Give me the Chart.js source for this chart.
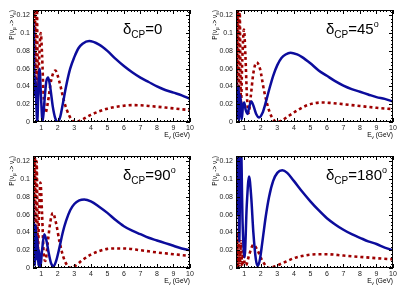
<!DOCTYPE html>
<html>
<head>
<meta charset="utf-8">
<script src="https://cdn.jsdelivr.net/npm/chart.js@4"></script>
<style>
  html, body { margin: 0; padding: 0; background: #fff; }
  #wrap { position: relative; width: 407px; height: 292px; }
  canvas { position: absolute; }
</style>
</head>
<body>
<div id="wrap">
  <canvas id="c1" width="203" height="146" style="left:0;top:0"></canvas>
  <canvas id="c2" width="204" height="146" style="left:203px;top:0"></canvas>
  <canvas id="c3" width="203" height="146" style="left:0;top:146px"></canvas>
  <canvas id="c4" width="204" height="146" style="left:203px;top:146px"></canvas>
</div>
<script>
// axis ticks
const energyTicks = [1, 2, 3, 4, 5, 6, 7, 8, 9, 10];
const probTicks = [0, 0.02, 0.04, 0.06, 0.08, 0.1, 0.12];

// [E (GeV), P]; blue = solid, red = dotted
const blue0 = [[0.5,0.09],[0.53,0.112],[0.57,0.06],[0.61,0.03],[0.65,0.05],[0.7,0.02],[0.76,0],[0.83,0.04],[0.9,0.06],[0.98,0.03],
  [1.08,0],[1.2,0.025],[1.3,0.045],[1.42,0.05],[1.55,0.038],[1.7,0.017],[1.85,0.004],[2.0,0],[2.15,0.006],[2.3,0.02],
  [2.5,0.04],[2.75,0.06],[3.0,0.073],[3.25,0.083],[3.5,0.088],[3.9,0.091],[4.5,0.087],[5,0.08],[5.5,0.071],[6,0.063],
  [6.5,0.056],[7,0.05],[7.5,0.045],[8,0.04],[8.5,0.036],[9,0.033],[9.5,0.03],[10,0.026]];
const red0 = [[0.5,0.15],[0.55,0.05],[0.6,0.16],[0.66,0.04],[0.73,0.14],[0.8,0.03],[0.87,0.07],[0.97,0.1],[1.05,0.075],[1.13,0.035],
  [1.25,0.01],[1.4,0.022],[1.6,0.047],[1.85,0.058],[2.1,0.045],[2.4,0.022],[2.7,0.007],[3.05,0],[3.5,0.003],[4,0.008],
  [4.5,0.012],[5,0.015],[5.5,0.017],[6,0.0183],[6.5,0.019],[7,0.0188],[7.5,0.018],[8,0.0172],[8.5,0.0163],[9,0.0153],[9.5,0.0143],[10,0.0135]];

const blue45 = [[0.5,0.048],[0.52,0.002],[0.56,0.036],[0.6,0.004],[0.65,0.04],[0.7,0.002],[0.77,0.03],[0.85,0.003],[0.93,0.02],[1.0,0.022],
  [1.08,0.014],[1.2,0.009],[1.3,0.017],[1.43,0.023],[1.56,0.018],[1.72,0.009],[1.9,0.005],[2.1,0.01],[2.3,0.022],[2.5,0.036],
  [2.75,0.052],[3.0,0.064],[3.25,0.072],[3.5,0.076],[3.8,0.078],[4.2,0.076],[4.5,0.073],[5,0.066],[5.5,0.058],[6,0.052],
  [6.5,0.046],[7,0.041],[7.5,0.037],[8,0.034],[8.5,0.031],[9,0.028],[9.5,0.026],[10,0.023]];
const red45 = [[0.5,0.14],[0.55,0.02],[0.6,0.15],[0.66,0.03],[0.72,0.13],[0.8,0.02],[0.88,0.07],[0.98,0.104],[1.07,0.075],[1.16,0.03],
  [1.26,0.01],[1.4,0.03],[1.55,0.055],[1.75,0.067],[1.95,0.06],[2.2,0.035],[2.5,0.013],[2.75,0.003],[3.0,0],[3.3,0.002],
  [3.7,0.007],[4.2,0.013],[4.7,0.018],[5.2,0.021],[5.7,0.022],[6.2,0.0215],[7,0.02],[8,0.018],[9,0.016],[10,0.0145]];

const blue90 = [[0.5,0.075],[0.53,0.01],[0.57,0.05],[0.61,0.003],[0.66,0.048],[0.71,0.01],[0.76,0.035],[0.82,0.003],[0.87,0.02],[0.94,0],
  [1.05,0.02],[1.18,0.038],[1.3,0.032],[1.45,0.017],[1.6,0.005],[1.75,0.002],[1.9,0.008],[2.1,0.023],[2.3,0.04],[2.5,0.053],
  [2.75,0.065],[3.0,0.072],[3.3,0.076],[3.6,0.077],[4.0,0.075],[4.5,0.069],[5,0.062],[5.5,0.054],[6,0.047],[6.5,0.042],
  [7,0.038],[7.5,0.034],[8,0.031],[8.5,0.028],[9,0.025],[9.5,0.022],[10,0.02]];
const red90 = [[0.5,0.14],[0.55,0.03],[0.6,0.15],[0.66,0.02],[0.72,0.12],[0.8,0.02],[0.87,0.065],[0.95,0.096],[1.05,0.06],[1.15,0.015],
  [1.25,0.008],[1.4,0.03],[1.55,0.052],[1.7,0.062],[1.9,0.05],[2.1,0.03],[2.4,0.009],[2.8,0],[3.1,0.003],[3.5,0.009],
  [4,0.015],[4.5,0.019],[5,0.0215],[5.5,0.022],[6,0.022],[7,0.02],[8,0.0175],[9,0.0155],[10,0.0135]];

const blue180 = [[0.5,0.2],[0.56,0.06],[0.62,0.2],[0.7,0.03],[0.78,0.16],[0.9,0.05],[1.02,0.012],[1.15,0.07],[1.29,0.103],[1.42,0.08],
  [1.55,0.04],[1.7,0.01],[1.82,0.002],[1.95,0.01],[2.1,0.03],[2.3,0.058],[2.5,0.08],[2.75,0.098],[3.0,0.107],[3.3,0.11],
  [3.6,0.107],[4.0,0.098],[4.5,0.086],[5,0.075],[5.5,0.065],[6,0.056],[6.5,0.049],[7,0.043],[7.5,0.038],[8,0.034],
  [8.5,0.03],[9,0.027],[9.5,0.023],[10,0.02]];
const red180 = [[0.5,0.072],[0.53,0],[0.57,0.04],[0.62,0],[0.67,0.035],[0.73,0.003],[0.8,0.03],[0.88,0.002],[0.95,0.02],[1.03,0.004],
  [1.1,0.003],[1.3,0.015],[1.55,0.026],[1.8,0.02],[2.1,0.008],[2.5,0],[3.0,0.003],[3.5,0.007],[4,0.011],[4.5,0.0135],
  [5,0.015],[5.5,0.0155],[6,0.0155],[7,0.014],[8,0.0125],[9,0.011],[10,0.0098]];

const panels = [
  { id: 'c1', blue: blue0, red: red0, value: '0', deg: false },
  { id: 'c2', blue: blue45, red: red45, value: '45', deg: true },
  { id: 'c3', blue: blue90, red: red90, value: '90', deg: true },
  { id: 'c4', blue: blue180, red: red180, value: '180', deg: true }
];

const FONT = '"Liberation Sans", Arial, sans-serif';

// draw a run of text pieces (sub/superscripts) left to right
function drawParts(ctx, parts, x, y) {
  let cx = x;
  parts.forEach(p => {
    ctx.font = p.size + 'px ' + FONT;
    ctx.fillText(p.t, cx, y + (p.dy || 0));
    cx += ctx.measureText(p.t).width;
  });
  return cx - x;
}
function partsWidth(ctx, parts) {
  let w = 0;
  parts.forEach(p => { ctx.font = p.size + 'px ' + FONT; w += ctx.measureText(p.t).width; });
  return w;
}

const frameTicks = {
  id: 'frameTicks',
  afterDraw(chart) {
    const { ctx, chartArea: a } = chart;
    const x = chart.scales.x, y = chart.scales.y;
    ctx.save();
    ctx.strokeStyle = '#000';
    ctx.lineWidth = 1;
    ctx.strokeRect(a.left + 0.5, a.top + 0.5, a.right - a.left - 1, a.bottom - a.top - 1);
    ctx.beginPath();
    for (let v = 0.6; v < 10.01; v += 0.2) {
      const major = Math.abs(v - Math.round(v)) < 0.01;
      const len = major ? 4 : 2;
      const px = Math.round(x.getPixelForValue(v)) + 0.5;
      ctx.moveTo(px, a.bottom); ctx.lineTo(px, a.bottom - len);
      ctx.moveTo(px, a.top); ctx.lineTo(px, a.top + len);
    }
    for (let v = 0; v < 0.1261; v += 0.004) {
      const major = Math.abs(v / 0.02 - Math.round(v / 0.02)) < 0.01;
      const len = major ? 4 : 2;
      const py = Math.round(y.getPixelForValue(v)) + 0.5;
      ctx.moveTo(a.left, py); ctx.lineTo(a.left + len, py);
      ctx.moveTo(a.right, py); ctx.lineTo(a.right - len, py);
    }
    ctx.stroke();

    ctx.fillStyle = '#000';
    ctx.textBaseline = 'alphabetic';
    ctx.textAlign = 'left';
    // x title
    const xt = [{ t: 'E', size: 6.5 }, { t: 'ν', size: 4.5, dy: 1.5 }, { t: ' (GeV)', size: 6.5 }];
    drawParts(ctx, xt, a.right - partsWidth(ctx, xt), 137);
    // y title (rotated)
    const yt = [{ t: 'P(ν', size: 6.5 }, { t: 'μ', size: 4.5, dy: 1.5 }, { t: ' -> ν', size: 6.5 }, { t: 'e', size: 4.5, dy: 1.5 }, { t: ')', size: 6.5 }];
    ctx.save();
    ctx.translate(14, a.top);
    ctx.rotate(-Math.PI / 2);
    drawParts(ctx, yt, -partsWidth(ctx, yt), 0);
    ctx.restore();
    // delta_CP label
    const p = chart.options.plugins.frameTicks;
    const lab = [{ t: 'δ', size: 15 }, { t: 'CP', size: 10, dy: 4 }, { t: '=' + p.value, size: 15 }];
    if (p.deg) lab.push({ t: 'o', size: 9, dy: -7 });
    drawParts(ctx, lab, a.left + 90, a.top + 24);
    ctx.restore();
  }
};

panels.forEach(pn => {
  const canvas = document.getElementById(pn.id);
  const rightPad = canvas.width - 190;
  new Chart(canvas.getContext('2d'), {
    type: 'line',
    data: {
      datasets: [
        {
          data: pn.blue.map(d => ({ x: d[0], y: d[1] })),
          borderColor: '#0c0c9c',
          borderWidth: 2.5,
          pointRadius: 0,
          cubicInterpolationMode: 'monotone',
          fill: false
        },
        {
          data: pn.red.map(d => ({ x: d[0], y: d[1] })),
          borderColor: '#9e0000',
          borderWidth: 2.6,
          borderDash: [3, 3],
          borderCapStyle: 'butt',
          pointRadius: 0,
          cubicInterpolationMode: 'monotone',
          fill: false
        }
      ]
    },
    options: {
      responsive: false,
      animation: false,
      devicePixelRatio: 1,
      layout: { padding: { left: 0, top: 10, right: rightPad, bottom: 0 } },
      plugins: {
        legend: { display: false },
        tooltip: { enabled: false },
        frameTicks: { value: pn.value, deg: pn.deg }
      },
      scales: {
        x: {
          type: 'linear',
          min: 0.5,
          max: 10,
          afterBuildTicks: s => { s.ticks = energyTicks.map(v => ({ value: v })); },
          afterFit: s => { s.height = 24; },
          grid: { display: false, drawTicks: false },
          border: { display: false },
          ticks: { padding: 2, color: '#222', font: { family: FONT, size: 7 }, maxRotation: 0 }
        },
        y: {
          type: 'linear',
          min: 0,
          max: 0.126,
          afterBuildTicks: s => { s.ticks = probTicks.map(v => ({ value: v })); },
          afterFit: s => { s.width = 33; },
          grid: { display: false, drawTicks: false },
          border: { display: false },
          ticks: { padding: 3, color: '#222', font: { family: FONT, size: 7 }, callback: v => String(+v.toFixed(3)) }
        }
      }
    },
    plugins: [frameTicks]
  });
});
</script>
</body>
</html>
